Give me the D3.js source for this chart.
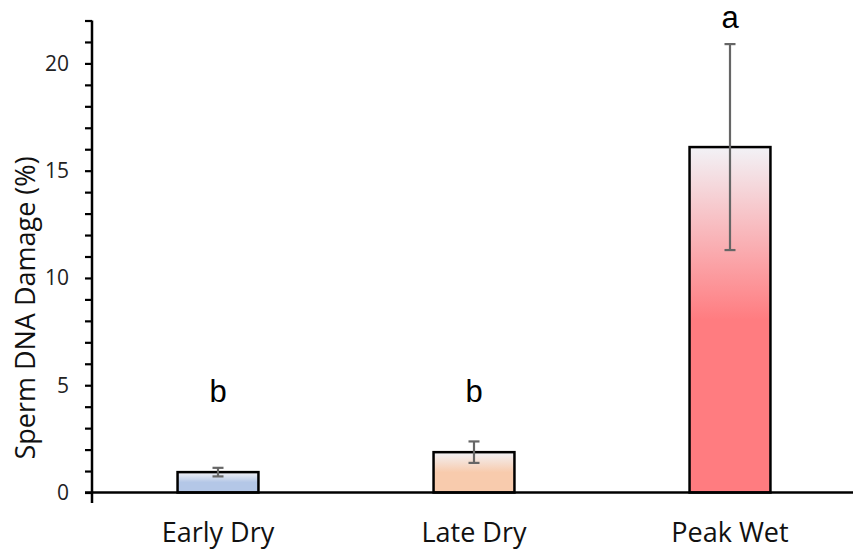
<!DOCTYPE html>
<html><head><meta charset="utf-8">
<script src="https://cdn.jsdelivr.net/npm/d3@7"></script>
<style>body{margin:0;background:#fff}svg{display:block}</style>
</head><body><svg id="c" width="854" height="549"></svg>
<script>
const categories = ["Early Dry", "Late Dry", "Peak Wet"];
const values = [0.95, 1.88, 16.1];
const errors = [0.2, 0.5, 4.8];
const letters = ["b", "b", "a"];
const letterLevels = [4.2, 4.2, 21.65];
const barColors = ["#b4c7e7", "#f8cbad", "#ff7c80"];
const yTicks = [0, 5, 10, 15, 20];

const svg = d3.select("#c");
const x = d3.scaleBand().domain(categories).range([90, 858]).paddingInner(0.684).paddingOuter(0.342);
const y = d3.scaleLinear().domain([0, 22]).range([492.5, 20.5]);

const defs = svg.append("defs");
categories.forEach((c, i) => {
  const g = defs.append("linearGradient").attr("id", "g" + i).attr("x1", 0).attr("x2", 0).attr("y1", 0).attr("y2", 1);
  g.append("stop").attr("offset", "0%").attr("stop-color", "#f2f2f6");
  g.append("stop").attr("offset", "50%").attr("stop-color", barColors[i]);
  g.append("stop").attr("offset", "100%").attr("stop-color", barColors[i]);
});

// bars
svg.append("g").selectAll("rect").data(categories).join("rect")
  .attr("x", d => x(d)).attr("width", x.bandwidth())
  .attr("y", (d, i) => y(values[i])).attr("height", (d, i) => y(0) - y(values[i]))
  .attr("fill", (d, i) => `url(#g${i})`)
  .attr("stroke", "#000").attr("stroke-width", 2.5);

// error bars
const eb = svg.append("g").attr("stroke", "#666").attr("stroke-width", 2.2).attr("fill", "none");
categories.forEach((c, i) => {
  const cx = x(c) + x.bandwidth() / 2;
  const t = y(values[i] + errors[i]), b = y(values[i] - errors[i]);
  eb.append("line").attr("x1", cx).attr("x2", cx).attr("y1", t).attr("y2", b);
  eb.append("line").attr("x1", cx - 5.5).attr("x2", cx + 5.5).attr("y1", t).attr("y2", t);
  eb.append("line").attr("x1", cx - 5.5).attr("x2", cx + 5.5).attr("y1", b).attr("y2", b);
});

// y axis
const yAxis = svg.append("g").attr("transform", "translate(92,0)")
  .call(d3.axisLeft(y).tickValues(d3.range(0, 23)).tickSize(7).tickFormat(""));
yAxis.select(".domain").remove();
yAxis.selectAll(".tick line").attr("stroke", "#000").attr("stroke-width", 2.2);
svg.append("g").selectAll("text").data(yTicks).join("text")
  .attr("x", 69).attr("y", d => y(d)).attr("dy", "0.35em").attr("text-anchor", "end")
  .attr("font-family", "Open Sans").attr("font-size", 21).attr("fill", "#222")
  .text(d => d);
svg.append("line").attr("x1", 92).attr("x2", 92).attr("y1", y(22)).attr("y2", 503)
  .attr("stroke", "#000").attr("stroke-width", 2.5);
// x axis
svg.append("line").attr("x1", 85).attr("x2", 853).attr("y1", y(0)).attr("y2", y(0))
  .attr("stroke", "#000").attr("stroke-width", 2.5);

// category labels
svg.append("g").selectAll("text").data(categories).join("text")
  .attr("x", d => x(d) + x.bandwidth() / 2).attr("y", 542).attr("text-anchor", "middle")
  .attr("font-family", "Open Sans").attr("font-size", 27).attr("fill", "#111")
  .text(d => d);

// significance letters
svg.append("g").selectAll("text").data(letters).join("text")
  .attr("x", (d, i) => x(categories[i]) + x.bandwidth() / 2).attr("y", (d, i) => y(letterLevels[i]))
  .attr("text-anchor", "middle").attr("font-family", "Liberation Sans, Arial").attr("font-size", 31).attr("fill", "#000")
  .text(d => d);

// axis title
svg.append("text").attr("transform", "translate(35,308) rotate(-90)").attr("text-anchor", "middle")
  .attr("font-family", "Open Sans").attr("font-size", 27).attr("fill", "#111")
  .text("Sperm DNA Damage (%)");
</script></body></html>
